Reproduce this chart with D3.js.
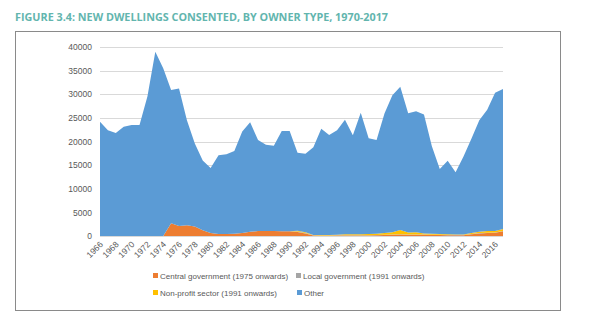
<!DOCTYPE html>
<html>
<head>
<meta charset="utf-8">
<script src="https://cdn.jsdelivr.net/npm/d3@7"></script>
<style>
  body { margin: 0; background: #fff; }
  svg { display: block; }
  .tick-label { font-family: "Liberation Sans", Arial, sans-serif; font-size: 8.5px; fill: #595959; }
  .legend-label { font-family: "Liberation Sans", Arial, sans-serif; font-size: 8px; fill: #595959; }
</style>
</head>
<body>
<svg id="chart" width="600" height="332"></svg>
<script>
var years = d3.range(1966, 2018);

// dwellings consented per year, by owner type
var central = [
  0, 0, 0, 0, 0, 0, 0, 0, 0,
  2700, 2100, 2250, 2000, 1200, 650, 420, 400, 450, 650,
  900, 1050, 1080, 1080, 1000, 980, 850, 550, 100, 50,
  60, 80, 100, 100, 100, 120, 150, 200, 250, 300,
  250, 250, 250, 200, 200, 150, 150, 150, 350, 550,
  650, 700, 1000
];
var local = [
  0, 0, 0, 0, 0, 0, 0, 0, 0,
  0, 0, 0, 0, 0, 0, 0, 0, 0, 0,
  0, 0, 0, 0, 0, 0, 100, 80, 40, 60,
  60, 60, 60, 60, 60, 60, 60, 60, 60, 60,
  60, 60, 60, 60, 60, 60, 60, 60, 60, 60,
  60, 60, 60
];
var nonProfit = [
  0, 0, 0, 0, 0, 0, 0, 0, 0,
  0, 0, 0, 0, 0, 0, 0, 0, 0, 0,
  0, 0, 0, 0, 0, 0, 150, 150, 50, 80,
  100, 150, 200, 200, 200, 250, 250, 400, 500, 900,
  450, 500, 200, 200, 150, 150, 100, 100, 200, 300,
  350, 300, 400
];
var other = [
  24200, 22400, 21800, 23100, 23500, 23500, 29500, 39000, 35500,
  28200, 29100, 22250, 17600, 14800, 13750, 16680, 16900, 17550, 21450,
  23200, 19250, 18220, 18020, 21200, 21220, 16500, 16620, 18610, 22510,
  21180, 22110, 24240, 20940, 25740, 20270, 19840, 25240, 28990, 30340,
  25240, 25590, 25190, 18540, 13790, 15540, 13190, 16490, 19990, 23590,
  25640, 29240, 29640
];

var seriesNames = ["central", "local", "nonProfit", "other"];
var seriesLabels = [
  "Central government (1975 onwards)",
  "Local government (1991 onwards)",
  "Non-profit sector (1991 onwards)",
  "Other"
];
var seriesColors = ["#ed7d31", "#a5a5a5", "#ffc000", "#5b9bd5"];
var yTicks = [0, 5000, 10000, 15000, 20000, 25000, 30000, 35000, 40000];
var xTicks = years.filter(function (y) { return (y - 1966) % 2 === 0; });

var rows = years.map(function (yr, i) {
  return { year: yr, central: central[i], local: local[i], nonProfit: nonProfit[i], other: other[i] };
});

var svg = d3.select("#chart");

svg.append("text")
  .attr("x", 15)
  .attr("y", 21)
  .attr("textLength", 373)
  .attr("lengthAdjust", "spacingAndGlyphs")
  .style("font-family", "'Open Sans', sans-serif")
  .style("font-weight", 700)
  .style("font-size", "10px")
  .style("fill", "#62b5ae")
  .text("FIGURE 3.4: NEW DWELLINGS CONSENTED, BY OWNER TYPE, 1970-2017");

svg.append("rect")
  .attr("x", 15.5)
  .attr("y", 31.5)
  .attr("width", 545)
  .attr("height", 279)
  .attr("fill", "none")
  .attr("stroke", "#8a8a8a")
  .attr("stroke-width", 1);

var x = d3.scaleLinear().domain([1966, 2017]).range([100, 503]);
var y = d3.scaleLinear().domain([0, 40000]).range([236, 47]);

// gridlines
svg.append("g")
  .selectAll("line")
  .data(yTicks)
  .join("line")
  .attr("x1", x(1966))
  .attr("x2", x(2017))
  .attr("y1", function (d) { return Math.round(y(d)) + 0.5; })
  .attr("y2", function (d) { return Math.round(y(d)) + 0.5; })
  .attr("stroke", "#d9d9d9")
  .attr("stroke-width", 1);

var stack = d3.stack().keys(seriesNames);
var layers = stack(rows);

var area = d3.area()
  .x(function (d) { return x(d.data.year); })
  .y0(function (d) { return y(d[0]); })
  .y1(function (d) { return y(d[1]); });

svg.append("g")
  .selectAll("path")
  .data(layers)
  .join("path")
  .attr("d", area)
  .attr("fill", function (d, i) { return seriesColors[i]; });

// y axis labels
var yAxis = d3.axisLeft(y).tickValues(yTicks).tickSize(0).tickPadding(0).tickFormat(d3.format("d"));
var yg = svg.append("g")
  .attr("transform", "translate(92,0)")
  .call(yAxis);
yg.select(".domain").remove();
yg.selectAll("text").attr("class", "tick-label").attr("font-size", null).attr("font-family", null);

// x axis, rotated year labels
var xAxis = d3.axisBottom(x).tickValues(xTicks).tickSize(0).tickFormat(d3.format("d"));
var xg = svg.append("g")
  .attr("transform", "translate(0,236)")
  .call(xAxis);
xg.select(".domain").remove();
xg.selectAll("text")
  .attr("class", "tick-label")
  .attr("font-size", null)
  .attr("font-family", null)
  .attr("text-anchor", "end")
  .attr("dy", null)
  .attr("y", 0)
  .attr("transform", "translate(3,9) rotate(-45)");

// legend
var legendItems = [
  { i: 0, x: 153, y: 276 },
  { i: 1, x: 296, y: 276 },
  { i: 2, x: 153, y: 293 },
  { i: 3, x: 297, y: 293 }
];
var lg = svg.append("g")
  .selectAll("g")
  .data(legendItems)
  .join("g")
  .attr("transform", function (d) { return "translate(" + d.x + "," + d.y + ")"; });
lg.append("rect")
  .attr("x", 0)
  .attr("y", -3)
  .attr("width", 5)
  .attr("height", 5)
  .attr("fill", function (d) { return seriesColors[d.i]; });
lg.append("text")
  .attr("class", "legend-label")
  .attr("x", 7)
  .attr("y", 2.5)
  .text(function (d) { return seriesLabels[d.i]; });
</script>
</body>
</html>
